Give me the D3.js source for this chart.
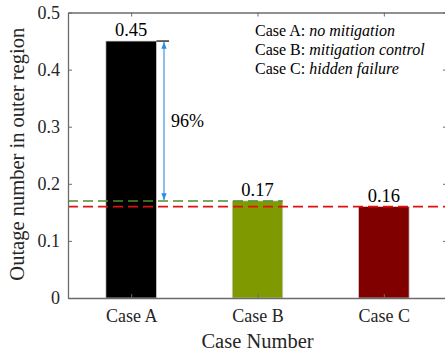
<!DOCTYPE html>
<html>
<head>
<meta charset="utf-8">
<script src="https://cdn.jsdelivr.net/npm/d3@7"></script>
<style>
  html, body { margin: 0; padding: 0; background: #fff; }
</style>
</head>
<body>
<script>
// Outage counts per case
const categories = ["Case A", "Case B", "Case C"];
const values = [0.45, 0.17, 0.16];
const valueLabels = ["0.45", "0.17", "0.16"];
const barColors = ["#000000", "#7f9a00", "#800000"];
const yTicks = [0, 0.1, 0.2, 0.3, 0.4, 0.5];
const legendCases = ["Case A: ", "Case B: ", "Case C: "];
const legendNotes = ["no mitigation", "mitigation control", "hidden failure"];
const reductionLabel = "96%";

const W = 445, H = 354;
const plotLeft = 68, plotRight = 447, plotTop = 12.5, plotBottom = 298;
const FONT = "Liberation Serif";

const svg = d3.select("body").append("svg")
  .attr("width", W).attr("height", H)
  .attr("font-family", FONT);

const x = d3.scaleLinear().domain([0.5, 3.5]).range([plotLeft, plotRight]);
const y = d3.scaleLinear().domain([0, 0.5]).range([plotBottom, plotTop]);
const barW = x(1.4) - x(1);

const axisColor = "#6b6b6b";
const textColor = "#262626";

// Bars
svg.selectAll("rect.bar").data(values).join("rect")
  .attr("class", "bar")
  .attr("x", (d, i) => x(i + 1) - barW / 2)
  .attr("y", d => y(d))
  .attr("width", barW)
  .attr("height", d => y(0) - y(d))
  .attr("fill", (d, i) => barColors[i])
  .attr("stroke", "#d0d0d0")
  .attr("stroke-width", 0.7);

// Reference lines at the levels of Case B and Case C
svg.append("line")
  .attr("x1", x(0.5)).attr("x2", x(2) + barW / 2)
  .attr("y1", y(values[1])).attr("y2", y(values[1]))
  .attr("stroke", "#4f8a2e").attr("stroke-width", 1.6)
  .attr("stroke-dasharray", "10,5");
svg.append("line")
  .attr("x1", x(0.5)).attr("x2", x(3.5))
  .attr("y1", y(values[2])).attr("y2", y(values[2]))
  .attr("stroke", "#e01010").attr("stroke-width", 1.6)
  .attr("stroke-dasharray", "10,5");

// Top marker line beside Case A
svg.append("line")
  .attr("x1", x(1) + barW / 2).attr("x2", x(1.3))
  .attr("y1", y(values[0])).attr("y2", y(values[0]))
  .attr("stroke", "#000").attr("stroke-width", 1.2);

// Double-headed arrow showing reduction
const defs = svg.append("defs");
["start", "end"].forEach(k => {
  defs.append("marker")
    .attr("id", "ah-" + k)
    .attr("viewBox", "0 0 10 10")
    .attr("refX", 10).attr("refY", 5)
    .attr("markerWidth", 6).attr("markerHeight", 6)
    .attr("orient", k === "end" ? "auto" : "auto-start-reverse")
    .append("path").attr("d", "M0,1 L10,5 L0,9 Z").attr("fill", "#2a8ee0");
});
const ax = x(1.26);
svg.append("line")
  .attr("x1", ax).attr("x2", ax)
  .attr("y1", y(values[0]) + 1).attr("y2", y(values[1]) - 1)
  .attr("stroke", "#2a8ee0").attr("stroke-width", 1.1)
  .attr("marker-start", "url(#ah-start)")
  .attr("marker-end", "url(#ah-end)");
svg.append("text")
  .attr("x", ax + 7).attr("y", (y(values[0]) + y(values[1])) / 2 + 6)
  .attr("font-size", 18).attr("fill", "#000")
  .text(reductionLabel);

// Value labels
svg.selectAll("text.val").data(values).join("text")
  .attr("class", "val")
  .attr("x", (d, i) => x(i + 1))
  .attr("y", d => y(d) - 5)
  .attr("text-anchor", "middle")
  .attr("font-size", 18.5).attr("fill", "#000")
  .text((d, i) => valueLabels[i]);

// Axes box
const yAxis = d3.axisLeft(y).tickValues(yTicks).tickFormat(d3.format("")).tickSizeInner(-4).tickSizeOuter(0).tickPadding(8);
const yAxisR = d3.axisRight(y).tickValues(yTicks).tickFormat("").tickSizeInner(-4).tickSizeOuter(0);
const xAxis = d3.axisBottom(x).tickValues([1, 2, 3]).tickFormat(d => categories[d - 1]).tickSizeInner(-4).tickSizeOuter(0).tickPadding(11);
const xAxisT = d3.axisTop(x).tickValues([1, 2, 3]).tickFormat("").tickSizeInner(-4).tickSizeOuter(0);

function style(g) {
  g.attr("font-family", FONT).attr("font-size", 18);
  g.selectAll("path.domain").attr("stroke", axisColor).attr("stroke-width", 1.3);
  g.selectAll(".tick line").attr("stroke", axisColor).attr("stroke-width", 1);
  g.selectAll(".tick text").attr("fill", textColor);
}
svg.append("g").attr("transform", `translate(${plotLeft},0)`).call(yAxis).call(style);
svg.append("g").attr("transform", `translate(${plotRight},0)`).call(yAxisR).call(style);
svg.append("g").attr("transform", `translate(0,${plotBottom})`).call(xAxis).call(style);
svg.append("g").attr("transform", `translate(0,${plotTop})`).call(xAxisT).call(style);

// Axis titles
svg.append("text")
  .attr("transform", `translate(24,${(plotTop + plotBottom) / 2 - 1}) rotate(-90)`)
  .attr("text-anchor", "middle").attr("font-size", 20.5).attr("fill", textColor)
  .text("Outage number in outer region");
svg.append("text")
  .attr("x", x(2)).attr("y", 347.5)
  .attr("text-anchor", "middle").attr("font-size", 20.5).attr("fill", textColor)
  .text("Case Number");

// Case descriptions
legendCases.forEach((c, i) => {
  const t = svg.append("text")
    .attr("x", 255).attr("y", 36 + i * 19)
    .attr("font-size", 16).attr("fill", "#000");
  t.append("tspan").text(c);
  t.append("tspan").attr("font-style", "italic").text(legendNotes[i]);
});
</script>
</body>
</html>
